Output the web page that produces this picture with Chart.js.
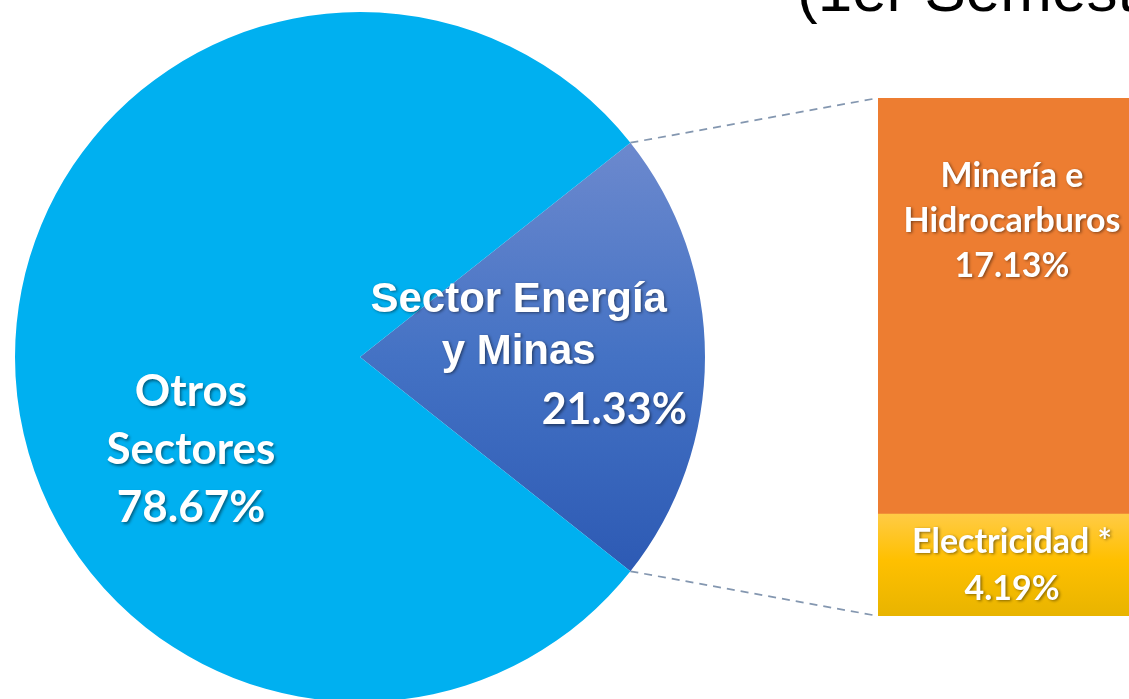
<!DOCTYPE html>
<html><head><meta charset="utf-8">
<script src="https://cdn.jsdelivr.net/npm/chart.js@4.4.1/dist/chart.umd.min.js"></script>
<style>
html,body{margin:0;padding:0;width:1129px;height:699px;overflow:hidden;background:#fff;}
#title{position:absolute;left:797px;top:-41px;font-family:"Liberation Sans",Arial,sans-serif;font-size:62px;line-height:62px;white-space:nowrap;color:#000;}
#pieBox{position:absolute;left:15px;top:12px;width:690px;height:690px;}
#barBox{position:absolute;left:878px;top:98px;width:268px;height:518px;}
#overlay{position:absolute;left:0;top:0;pointer-events:none;}
</style></head><body>
<div id="title"></div>
<canvas id="overlay" width="1129" height="699"></canvas>
<div id="pieBox"><canvas id="pie"></canvas></div>
<div id="barBox"><canvas id="bar"></canvas></div>
<script>
// ---- data ----
const titleText = '(1er Semestre)';
const pieCategories = ['Sector Energía y Minas', 'Otros Sectores'];
const pieValues = [21.33, 78.67];
const pieLabelLines = [['Sector Energía', 'y Minas'], ['Otros', 'Sectores']];
const barCategories = ['Electricidad *', 'Minería e Hidrocarburos'];
const barValues = [4.19, 17.13];
const barLabelLines = [['Electricidad *'], ['Minería e', 'Hidrocarburos']];

const fmtPct = v => v.toFixed(2) + '%';
document.getElementById('title').textContent = titleText;

const pieTotal = pieValues.reduce((a, b) => a + b, 0);
const barTotal = barValues.reduce((a, b) => a + b, 0);
const pieRotation = 90 - (pieValues[0] / pieTotal) * 180;

function drawLines(ctx, lines, x, yMid, lh, font) {
  ctx.font = font;
  const n = lines.length;
  lines.forEach((t, i) => ctx.fillText(t, x, yMid + (i - (n - 1) / 2) * lh));
}
function shadow(ctx) {
  ctx.shadowColor = 'rgba(0,0,0,0.45)';
  ctx.shadowOffsetX = 1.5; ctx.shadowOffsetY = 1.5; ctx.shadowBlur = 3;
}

function pieColor(context) {
  if (context.dataIndex !== 0) return '#00B0F0';
  const chart = context.chart; const ca = chart.chartArea;
  if (!ca || !(ca.bottom - ca.top > 0)) return '#4472C4';
  const cy = (ca.top + ca.bottom) / 2;
  const r = Math.min(ca.right - ca.left, ca.bottom - ca.top) / 2;
  const half = (pieValues[0] / pieTotal) * Math.PI;
  const top = cy - r * Math.sin(half), bot = cy + r * Math.sin(half);
  if (!isFinite(top) || !isFinite(bot) || bot <= top) return '#4472C4';
  const g = chart.ctx.createLinearGradient(0, top, 0, bot);
  g.addColorStop(0, '#6C89CE');
  g.addColorStop(0.5, '#4472C4');
  g.addColorStop(1, '#2D5AB4');
  return g;
}
function elecColor(context) {
  const chart = context.chart; const y = chart.scales && chart.scales.y;
  if (!y) return '#FFC000';
  const top = y.getPixelForValue(barValues[0]), bot = y.getPixelForValue(0);
  if (!isFinite(top) || !isFinite(bot) || bot <= top) return '#FFC000';
  const g = chart.ctx.createLinearGradient(0, top, 0, bot);
  g.addColorStop(0, '#FFCB45');
  g.addColorStop(0.45, '#FFC000');
  g.addColorStop(1, '#E8B400');
  return g;
}

const pieLabelPlugin = {
  id: 'pieLabels',
  afterDatasetsDraw(chart) {
    const ctx = chart.ctx;
    const arc = chart.getDatasetMeta(0).data[0];
    const cx = arc.x, cy = arc.y, r = arc.outerRadius;
    ctx.save();
    shadow(ctx);
    ctx.fillStyle = '#fff'; ctx.textAlign = 'center'; ctx.textBaseline = 'middle';
    drawLines(ctx, pieLabelLines[0], cx + 0.46 * r, cy - 0.09 * r, 52, 'bold 42px "Liberation Sans", Arial, sans-serif');
    drawLines(ctx, [fmtPct(pieValues[0])], cx + 0.737 * r, cy + 0.154 * r, 0, 'bold 43px Lato, sans-serif');
    drawLines(ctx, [...pieLabelLines[1], fmtPct(pieValues[1])], cx - 0.49 * r, cy + 0.27 * r, 58, 'bold 44px Lato, sans-serif');
    ctx.restore();
  }
};

const barLabelPlugin = {
  id: 'barLabels',
  afterDatasetsDraw(chart) {
    const ctx = chart.ctx;
    ctx.save();
    shadow(ctx);
    ctx.fillStyle = '#fff'; ctx.textAlign = 'center'; ctx.textBaseline = 'middle';
    const font = 'bold 34px Lato, sans-serif';
    const e = chart.getDatasetMeta(0).data[0];
    const eLines = [...barLabelLines[0], fmtPct(barValues[0])];
    drawLines(ctx, eLines, e.x, (e.y + e.base) / 2, 47, font);
    const m = chart.getDatasetMeta(1).data[0];
    const mLines = [...barLabelLines[1], fmtPct(barValues[1])];
    ctx.font = font;
    mLines.forEach((t, i) => ctx.fillText(t, m.x, m.y + 78 + i * 45));
    ctx.restore();
  }
};

let pieChart = null, barChart = null;
function drawConnectors() {
  if (!pieChart || !barChart) return;
  const ov = document.getElementById('overlay');
  const ctx = ov.getContext('2d');
  ctx.clearRect(0, 0, ov.width, ov.height);
  const pb = document.getElementById('pieBox').getBoundingClientRect();
  const bb = document.getElementById('barBox').getBoundingClientRect();
  const arc = pieChart.getDatasetMeta(0).data[0];
  const p1 = [pb.left + arc.x + arc.outerRadius * Math.cos(arc.startAngle), pb.top + arc.y + arc.outerRadius * Math.sin(arc.startAngle)];
  const p2 = [pb.left + arc.x + arc.outerRadius * Math.cos(arc.endAngle), pb.top + arc.y + arc.outerRadius * Math.sin(arc.endAngle)];
  const m = barChart.getDatasetMeta(1).data[0];
  const e = barChart.getDatasetMeta(0).data[0];
  const q1 = [bb.left + m.x - m.width / 2, bb.top + m.y];
  const q2 = [bb.left + e.x - e.width / 2, bb.top + e.base];
  ctx.save();
  ctx.strokeStyle = '#8497B0'; ctx.lineWidth = 1.75; ctx.setLineDash([8, 6]);
  ctx.beginPath(); ctx.moveTo(p1[0], p1[1]); ctx.lineTo(q1[0], q1[1]); ctx.stroke();
  ctx.beginPath(); ctx.moveTo(p2[0], p2[1]); ctx.lineTo(q2[0], q2[1]); ctx.stroke();
  ctx.restore();
}
const connectorPlugin = { id: 'connectors', afterRender() { drawConnectors(); } };

pieChart = new Chart(document.getElementById('pie'), {
  type: 'pie',
  data: {
    labels: pieCategories,
    datasets: [{
      data: pieValues,
      backgroundColor: pieColor,
      borderWidth: 0
    }]
  },
  options: {
    responsive: true, maintainAspectRatio: false, animation: false,
    rotation: pieRotation,
    layout: { padding: 0 },
    plugins: { legend: { display: false }, tooltip: { enabled: false } }
  },
  plugins: [pieLabelPlugin, connectorPlugin]
});

barChart = new Chart(document.getElementById('bar'), {
  type: 'bar',
  data: {
    labels: [''],
    datasets: [
      { label: barCategories[0], data: [barValues[0]], backgroundColor: elecColor, borderWidth: 0 },
      { label: barCategories[1], data: [barValues[1]], backgroundColor: '#ED7D31', borderWidth: 0 }
    ]
  },
  options: {
    responsive: true, maintainAspectRatio: false, animation: false,
    layout: { padding: 0 },
    datasets: { bar: { barPercentage: 1, categoryPercentage: 1 } },
    scales: {
      x: { stacked: true, display: false },
      y: { stacked: true, display: false, min: 0, max: barTotal }
    },
    plugins: { legend: { display: false }, tooltip: { enabled: false } }
  },
  plugins: [barLabelPlugin, connectorPlugin]
});
drawConnectors();
</script>
</body></html>
